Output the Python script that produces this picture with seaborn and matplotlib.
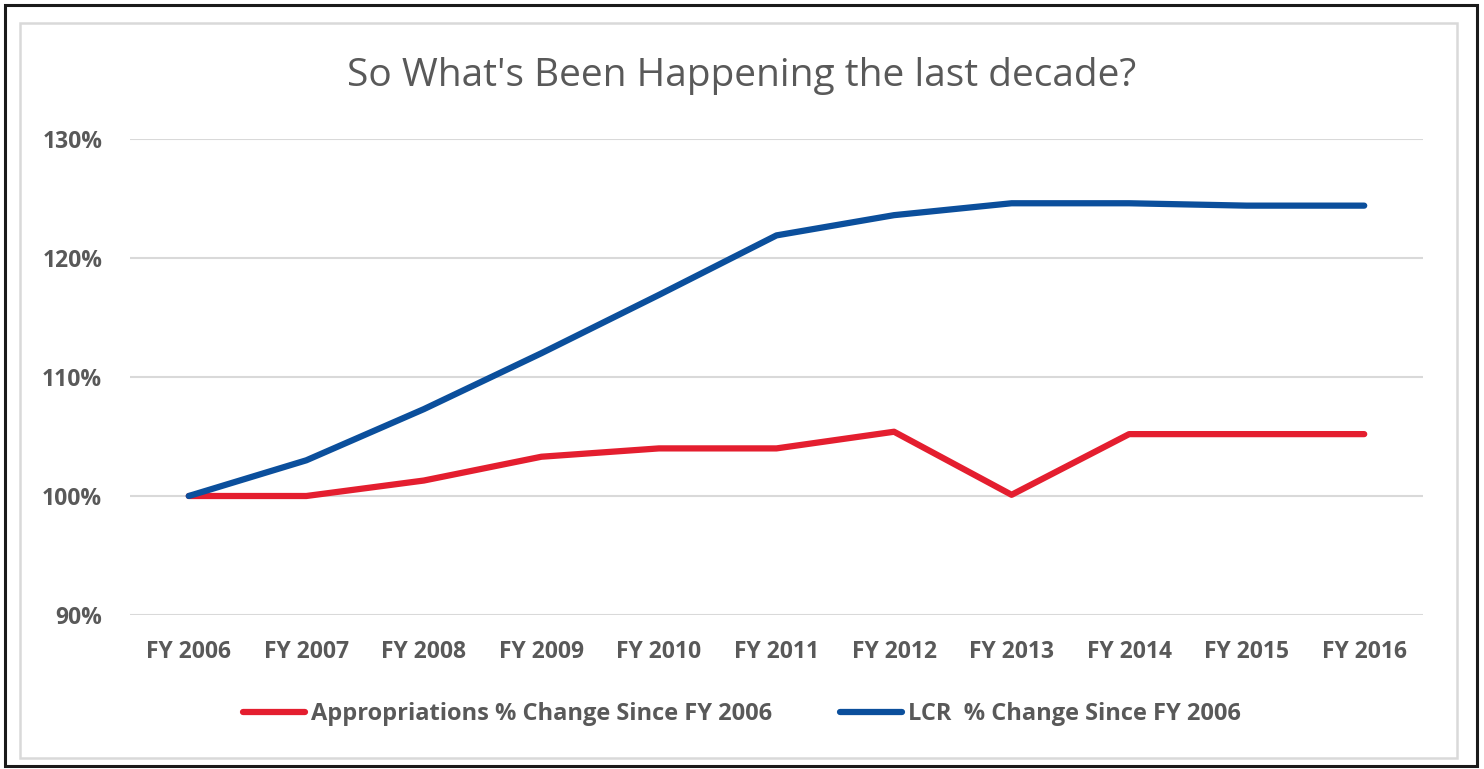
import matplotlib
matplotlib.use("Agg")
import matplotlib.pyplot as plt
from matplotlib.patches import Rectangle
import pandas as pd
import seaborn as sns

years = ["FY 2006", "FY 2007", "FY 2008", "FY 2009", "FY 2010", "FY 2011",
         "FY 2012", "FY 2013", "FY 2014", "FY 2015", "FY 2016"]
appropriations = [100.0, 100.0, 101.3, 103.3, 104.0, 104.0, 105.4, 100.1, 105.2, 105.2, 105.2]
lcr = [100.0, 103.0, 107.3, 112.0, 116.9, 121.9, 123.6, 124.6, 124.6, 124.4, 124.4]
series_names = ["Appropriations % Change Since FY 2006", "LCR  % Change Since FY 2006"]
y_ticks = [90, 100, 110, 120, 130]

df = pd.concat([
    pd.DataFrame({"year": years, "value": appropriations, "series": series_names[0]}),
    pd.DataFrame({"year": years, "value": lcr, "series": series_names[1]}),
])

sns.set_theme(style="white")
plt.rcParams["font.family"] = ["Open Sans", "DejaVu Sans"]

text_gray = "#595959"
palette = {series_names[0]: "#E41E2F", series_names[1]: "#0B4F9C"}

fig = plt.figure(figsize=(14.84, 7.69), dpi=100)
ax = fig.add_axes([130 / 1484, 1 - 615 / 769, (1423 - 130) / 1484, (615 - 139) / 769])

sns.lineplot(data=df, x="year", y="value", hue="series", palette=palette,
             linewidth=4.5, ax=ax, sort=False, legend=True)
for line in ax.lines:
    line.set_solid_capstyle("round")
    line.set_solid_joinstyle("round")

ax.set_xlim(-0.5, len(years) - 0.5)
ax.set_ylim(90, 130)
ax.set_yticks(y_ticks)
ax.set_yticklabels([f"{t}%" for t in y_ticks])
ax.set_xlabel("")
ax.set_ylabel("")
ax.grid(axis="y", color="#D9D9D9", linewidth=1.5)
ax.grid(axis="x", visible=False)
ax.set_axisbelow(True)
for s in ax.spines.values():
    s.set_visible(False)
ax.tick_params(axis="both", length=0, colors=text_gray, labelsize=16.5)
ax.tick_params(axis="y", pad=20)
ax.tick_params(axis="x", pad=18)
for lbl in ax.get_xticklabels() + ax.get_yticklabels():
    lbl.set_fontweight("bold")

handles, labels = ax.get_legend_handles_labels()
ax.get_legend().remove()
leg = fig.legend(handles, labels, loc="center", bbox_to_anchor=(0.5, 1 - 714 / 769),
                 ncol=2, frameon=False, handlelength=2.6, handletextpad=0.25,
                 columnspacing=2.9, prop={"weight": "bold", "size": 17})
for t in leg.get_texts():
    t.set_color(text_gray)
for h in leg.get_lines():
    h.set_linewidth(4.5)
    h.set_solid_capstyle("round")

fig.text(0.5, 1 - 76 / 769, "So What's Been Happening the last decade?",
         ha="center", va="center", fontsize=28, color=text_gray, fontweight="normal")

# outer frame and inner chart-area border
fig.patches.append(Rectangle((5 / 1484, 1 - 766 / 769), 1472 / 1484, 761 / 769,
                             transform=fig.transFigure, fill=False,
                             edgecolor="#1A1A1A", linewidth=2.2))
fig.patches.append(Rectangle((19.5 / 1484, 1 - 758 / 769), (1457 - 19.5) / 1484, (758 - 23) / 769,
                             transform=fig.transFigure, fill=False,
                             edgecolor="#D9D9D9", linewidth=1.8))

fig.savefig("out.png", dpi=100)
